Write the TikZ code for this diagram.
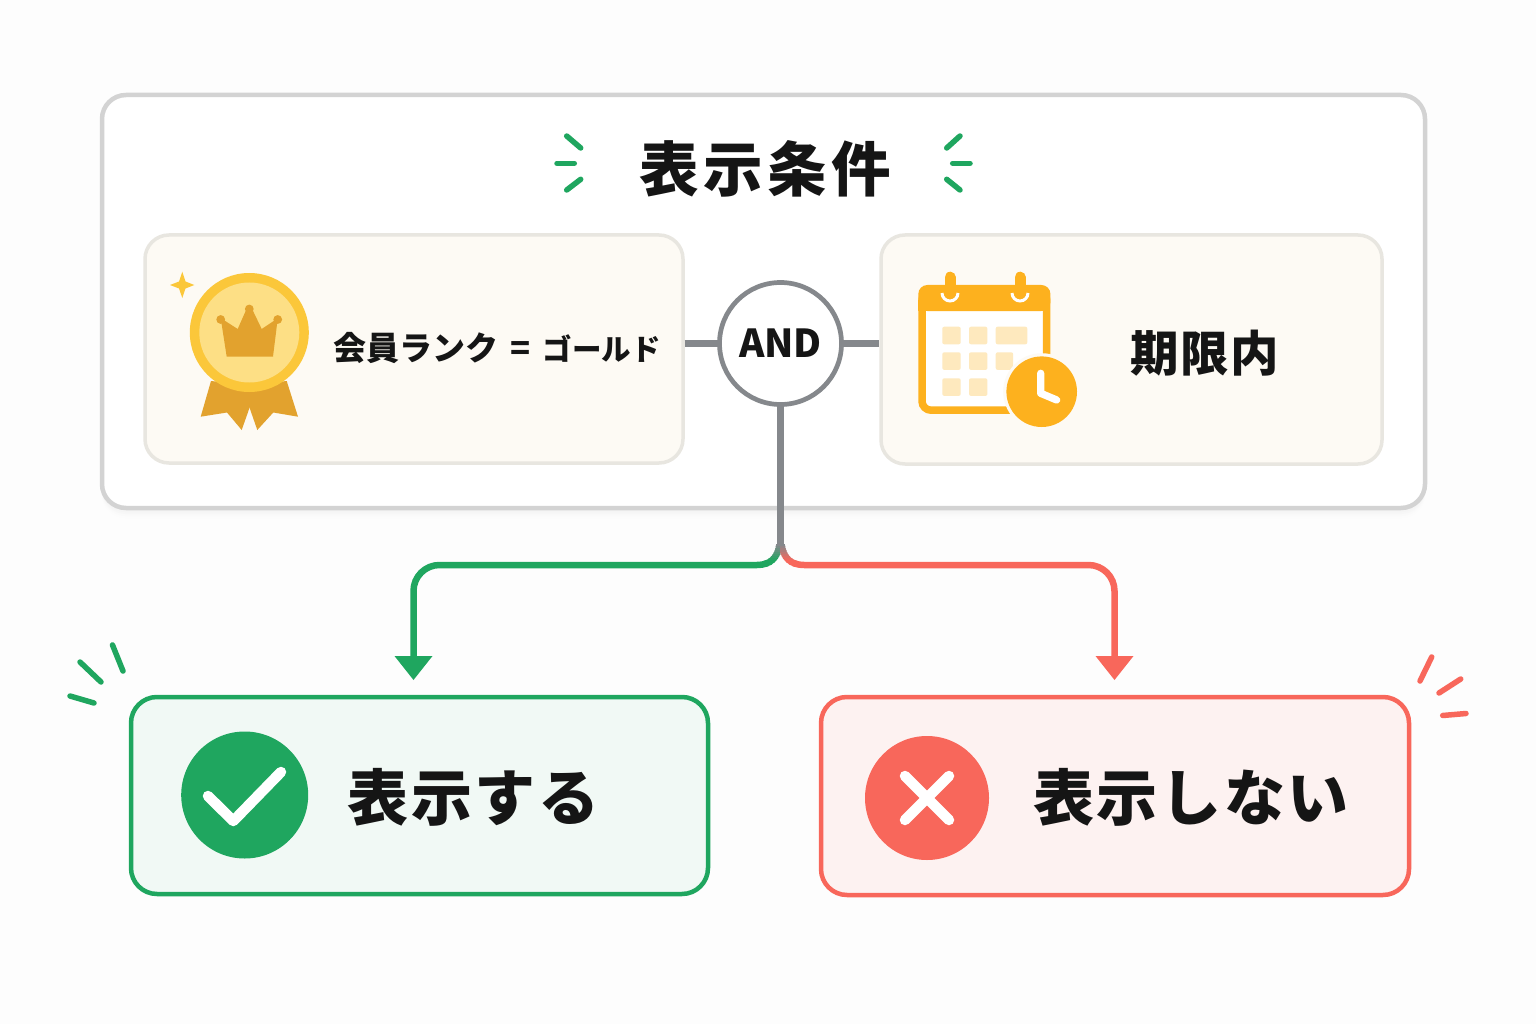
\documentclass[tikz,border=0pt]{standalone}
\usepackage{fontspec}
\setmainfont{Liberation Sans}
\newfontfamily\jpb{Noto Sans CJK JP}
\usetikzlibrary{arrows.meta,calc,shapes.geometric}
\definecolor{bgc}{HTML}{FDFDFD}
\definecolor{outerc}{HTML}{D3D3D3}
\definecolor{creamc}{HTML}{FDFAF4}
\definecolor{creame}{HTML}{E8E6E0}
\definecolor{greyc}{HTML}{85888C}
\definecolor{greenc}{HTML}{1FA65F}
\definecolor{redc}{HTML}{F8675B}
\definecolor{greenf}{HTML}{F1F9F5}
\definecolor{redf}{HTML}{FDF2F1}
\definecolor{inkc}{HTML}{151515}
\definecolor{goldc}{HTML}{FBC73A}
\definecolor{goldl}{HTML}{FDDF85}
\definecolor{goldd}{HTML}{E2A22E}
\definecolor{orangec}{HTML}{FDB11E}
\definecolor{orangel}{HTML}{FEE9BE}
\tikzset{
  condbox/.style={draw=creame,line width=3.5pt,fill=creamc,rounded corners=24pt},
  resbox/.style={line width=4.5pt,rounded corners=26pt},
  jptext/.style n args={2}{font=\jpb\bfseries\fontsize{#1}{#1}\selectfont\addfontfeature{LetterSpace=#2},text=inkc,inner sep=0pt},
  stub/.style={draw=greyc,line width=6.5pt},
  flow/.style={line width=6.5pt,rounded corners=26pt},
  burst/.style={line width=5.5pt,line cap=round},
  glyphline/.style={draw=white,line width=10.5pt,line cap=round,line join=round}
}
\newcommand{\greencurve}{(757,565) .. controls (770,565) and (778,558) .. (779.5,544)}
\newcommand{\redcurve}{(804,565) .. controls (791,565) and (783,558) .. (781.5,544)}
\begin{document}
\begin{tikzpicture}[x=1pt,y=-1pt]
\useasboundingbox (0,0) rectangle (1536,1024);
\fill[bgc] (0,0) rectangle (1536,1024);
% outer panel with soft shadow
\foreach \o/\c in {10/1,8/2,6/3,4/4}{
  \fill[black!\c,rounded corners=24pt] (102,99+\o) rectangle (1425,508+\o);
}
\draw[draw=outerc,line width=4.5pt,fill=white,rounded corners=24pt] (102,95) rectangle (1425,508);
\node[jptext={59.5}{7.5}] (title) at (765.5,169) {表示条件};
% title ticks
\coordinate (t1a) at (566.7,136); \coordinate (t1b) at (580.7,148);
\coordinate (t2a) at (557,163.3); \coordinate (t2b) at (574.3,163.3);
\coordinate (t3a) at (566.7,190); \coordinate (t3b) at (580.7,179.3);
\coordinate (t4a) at (960,136); \coordinate (t4b) at (946.7,148);
\coordinate (t5a) at (952.7,163.3); \coordinate (t5b) at (970,163.3);
\coordinate (t6a) at (960,190); \coordinate (t6b) at (946.7,179.3);
\foreach \i in {1,...,6}{\draw[burst,greenc] (t\i a) -- (t\i b);}
% condition boxes
\draw[condbox] (145,235) rectangle (683,463);
\node[minimum width=538pt,minimum height=228pt] (lbox) at (414,349) {};
\draw[condbox] (881,235) rectangle (1382,464);
\node[minimum width=501pt,minimum height=229pt] (rbox) at (1131.5,349.5) {};
\node[jptext={33}{0}] (gold) at (497,348.5) {会員ランク\hspace{12pt}=\hspace{12pt}{\fontsize{29.5}{29.5}\selectfont ゴールド}};
\node[jptext={48.5}{3}] (inperiod) at (1204.5,353) {期限内};
% medal
\fill[goldd] (211,381) -- (200.7,416.7) -- (227,412.5) -- (241.7,430) -- (249.8,407) -- (249.8,385) -- cycle;
\fill[goldd] (286.7,381) -- (298,416.7) -- (273.3,412.5) -- (257.3,430) -- (249.3,407) -- (249.3,385) -- cycle;
\fill[goldc] (249.3,332.5) circle (59.5pt);
\fill[goldl] (249.3,332.5) circle (50pt);
\fill[goldd] (226.7,356.7) -- (221.3,322) -- (219,317) -- (237.7,329) -- (247,308) -- (251.6,308) -- (261.7,329) -- (279.6,317) -- (277.3,322) -- (273,356.7) -- cycle;
\fill[goldd] (220.7,319.5) circle (4.4pt) (249.3,309) circle (4.4pt) (277.7,319.5) circle (4.4pt);
\fill[goldc] (182.3,271.7) -- (185.5,281.5) -- (194.3,285) -- (185.5,288.5) -- (182.3,298) -- (179,288.5) -- (170,285) -- (179,281.5) -- cycle;
% calendar
\draw[orangec,line width=7.5pt,fill=white,rounded corners=9pt] (922,291) rectangle (1046.7,410.2);
\fill[orangec,rounded corners=9pt] (918.3,285) rectangle (1050.4,311);
\fill[orangec] (918.3,300) rectangle (1050.4,310.7);
\draw[white,line width=3pt] (942,293) arc[start angle=180,end angle=360,radius=8pt];
\draw[white,line width=3pt] (1012,293) arc[start angle=180,end angle=360,radius=8pt];
\draw[orangec,line width=11pt,line cap=round] (950,277.2) -- (950,291);
\draw[orangec,line width=11pt,line cap=round] (1020,277.2) -- (1020,291);
\foreach \x/\y/\w in {942.3/326.7/18.4,969/326.7/18.4,995.7/326.7/31.6,942.3/352.3/18.4,969/352.3/18.4,995.7/352.3/17.5,942.3/378.3/18.4,969/378.3/18.4}{
  \fill[orangel,rounded corners=2pt] (\x,\y) rectangle ++(\w,17.6);
}
\fill[creamc] (1041.7,391.7) circle (38.5pt);
\fill[orangec] (1041.7,391.7) circle (35.3pt);
\draw[white,line width=7.3pt,line cap=round,line join=round] (1040.7,373.3) -- (1040.7,393.3) -- (1056.7,400);
% AND
\node[circle,draw=greyc,line width=4.7pt,fill=white,minimum size=122pt,inner sep=0pt,font=\jpb\bfseries\fontsize{38.5}{38.5}\selectfont,text=inkc] (and) at (780.5,343.5) {AND};
\draw[stub] (and.west -| lbox.east) ++(1.5,0) -- (and.west);
\draw[stub] (and.east) -- ($(and.east -| rbox.west)+(-1.5,0)$);
% results
\draw[resbox,draw=greenc,fill=greenf] (131,697) rectangle (708,894);
\node[minimum width=577pt,minimum height=197pt] (yes) at (419.5,795.5) {};
\draw[resbox,draw=redc,fill=redf] (821,697) rectangle (1409,895);
\node[minimum width=588pt,minimum height=198pt] (no) at (1115,796) {};
\coordinate (yesin) at (413.5,680);
\coordinate (noin) at (1114.5,680);
% connectors
\draw[flow,greenc] (757,565) -- (413.5,565) -- (413.5,660);
\fill[greenc] (394.5,656) -- (432.5,656) -- (yesin) -- cycle;
\draw[flow,redc] (804,565) -- (1114.5,565) -- (1114.5,660);
\fill[redc] (1095.5,656) -- (1133.5,656) -- (noin) -- cycle;
\foreach \y/\m in {544/100,546/88,548/76,550/64,552/50,554/36,556/22,558/10,560/0,562/0,564/0,566/0}{
  \begin{scope}
    \clip (745,\y) rectangle (782,\y+2.3);
    \draw[line width=6.5pt,greyc!\m!greenc] \greencurve;
  \end{scope}
  \begin{scope}
    \clip (780,\y) rectangle (815,\y+2.3);
    \draw[line width=6.5pt,greyc!\m!redc] \redcurve;
  \end{scope}
}
\draw[greyc,line width=7pt] (and.south) -- (780.5,546);
% yes
\fill[greenc] (244.7,795) circle (63.5pt);
\draw[glyphline] (208,796) -- (233.3,821) -- (281,772);
\node[jptext={61}{4.5}] (yestxt) at (473.5,797) {表示する};
% no
\fill[redc] (927,798) circle (62pt);
\draw[glyphline] (905,776) -- (949,820);
\draw[glyphline] (949,776) -- (905,820);
\node[jptext={61}{4.5}] (notxt) at (1191,797) {表示しない};
% bursts
\draw[burst,greenc] (70,696) -- (94,703);
\draw[burst,greenc] (80,662) -- (101,682);
\draw[burst,greenc] (112.5,645) -- (123,671);
\draw[burst,redc] (1431.7,657) -- (1420,681);
\draw[burst,redc] (1460.7,679) -- (1439,693);
\draw[burst,redc] (1466,713.5) -- (1442.7,715.5);
\end{tikzpicture}
\end{document}
